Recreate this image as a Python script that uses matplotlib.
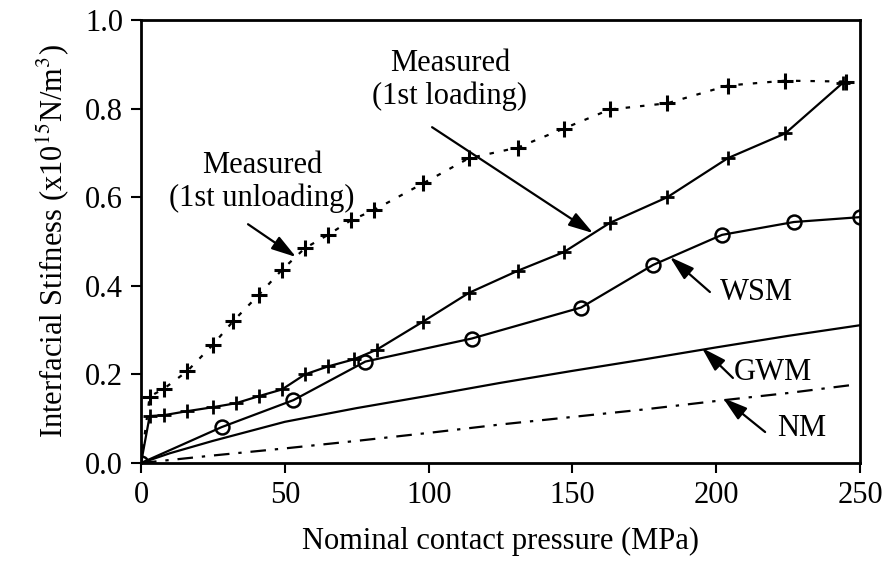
import matplotlib
matplotlib.use("Agg")
import matplotlib.pyplot as plt

plt.rcParams['font.family'] = ['Liberation Serif', 'DejaVu Serif']
plt.rcParams['mathtext.fontset'] = 'stix'

# Measured, 1st loading
load_x = [0, 3, 8, 16, 25, 33, 41, 49, 57, 65, 74, 82, 98, 114, 131, 147, 163, 183, 204, 224, 244]
load_y = [0, 0.106, 0.108, 0.117, 0.126, 0.135, 0.151, 0.166, 0.200, 0.218, 0.234, 0.256,
          0.319, 0.384, 0.434, 0.476, 0.542, 0.600, 0.688, 0.744, 0.858]

# Measured, 1st unloading
unload_x = [0, 3, 8, 16, 25, 32, 41, 49, 57, 65, 73, 81, 98, 114, 131, 147, 163, 183, 204, 224, 245]
unload_y = [0, 0.150, 0.168, 0.207, 0.267, 0.320, 0.380, 0.436, 0.485, 0.515, 0.548, 0.571,
            0.631, 0.688, 0.712, 0.755, 0.798, 0.812, 0.852, 0.863, 0.861]

# WSM
wsm_x = [0, 28, 53, 78, 115, 153, 178, 202, 227, 250]
wsm_y = [0, 0.081, 0.142, 0.229, 0.281, 0.351, 0.447, 0.515, 0.544, 0.555]

# GWM
gwm_x = [0, 10, 25, 50, 75, 100, 125, 150, 175, 200, 225, 250]
gwm_y = [0, 0.022, 0.050, 0.093, 0.124, 0.152, 0.181, 0.208, 0.234, 0.261, 0.287, 0.311]

# NM
nm_x = [0, 25, 50, 75, 100, 125, 150, 175, 200, 225, 247]
nm_y = [0, 0.017, 0.033, 0.050, 0.068, 0.087, 0.104, 0.121, 0.140, 0.158, 0.176]

x_ticks = [0, 50, 100, 150, 200, 250]
y_ticks = [0.0, 0.2, 0.4, 0.6, 0.8, 1.0]

fig = plt.figure(figsize=(8.87, 5.79), dpi=100)
ax = fig.add_axes([0.159, 0.2003, 0.8106, 0.7652])

lw = 1.6
ax.plot(unload_x, unload_y, color='black', lw=lw, linestyle=(0, (2, 4.5)),
        marker='+', markersize=11, markeredgewidth=2.2)
ax.plot(load_x, load_y, color='black', lw=lw, linestyle='-',
        marker='+', markersize=10, markeredgewidth=2)
ax.plot(wsm_x, wsm_y, color='black', lw=lw, linestyle='-',
        marker='o', markersize=10, markerfacecolor='none', markeredgewidth=1.8)
ax.plot(gwm_x, gwm_y, color='black', lw=lw, linestyle='-')
ax.plot(nm_x, nm_y, color='black', lw=lw, linestyle=(0, (7, 4, 1.5, 4)))

ax.set_xlim(0, 250)
ax.set_ylim(0, 1.0)
ax.set_xticks(x_ticks)
ax.set_yticks(y_ticks)
ax.set_xticklabels([str(v) for v in x_ticks])
ax.set_yticklabels([f"{v:.1f}" for v in y_ticks])
ax.tick_params(direction='out', length=7, width=1.5, labelsize=22, pad=6)

for s in ax.spines.values():
    s.set_linewidth(2)
    s.set_clip_on(False)

ax.set_xlabel('Nominal contact pressure (MPa)', fontsize=22, labelpad=12)
ax.set_ylabel(r'Interfacial Stifness (x10$^{15}$N/m$^{3}$)', fontsize=22, labelpad=10)

fs = 22
arrow = dict(arrowstyle='-|>,head_length=1.5,head_width=0.45', color='black', lw=1.6,
             shrinkA=0, shrinkB=0)

ax.annotate('', xy=(157.2, 0.519), xytext=(101.2, 0.758), arrowprops=arrow)
ax.text(107.4, 0.865, 'Measured\n(1st loading)', fontsize=fs, ha='center', va='center',
        linespacing=1.15)

ax.annotate('', xy=(53.9, 0.465), xytext=(37.2, 0.539), arrowprops=arrow)
ax.text(42, 0.634, 'Measured\n(1st unloading)', fontsize=fs, ha='center', va='center',
        linespacing=1.15)

ax.annotate('', xy=(183.9, 0.465), xytext=(197.8, 0.386), arrowprops=arrow)
ax.text(201.3, 0.386, 'WSM', fontsize=fs, ha='left', va='center')

ax.annotate('', xy=(195.0, 0.260), xytext=(205.8, 0.192), arrowprops=arrow)
ax.text(206.0, 0.205, 'GWM', fontsize=fs, ha='left', va='center')

ax.annotate('', xy=(202.3, 0.147), xytext=(217.0, 0.070), arrowprops=arrow)
ax.text(221.0, 0.078, 'NM', fontsize=fs, ha='left', va='center')

fig.savefig('out.png', dpi=100)
